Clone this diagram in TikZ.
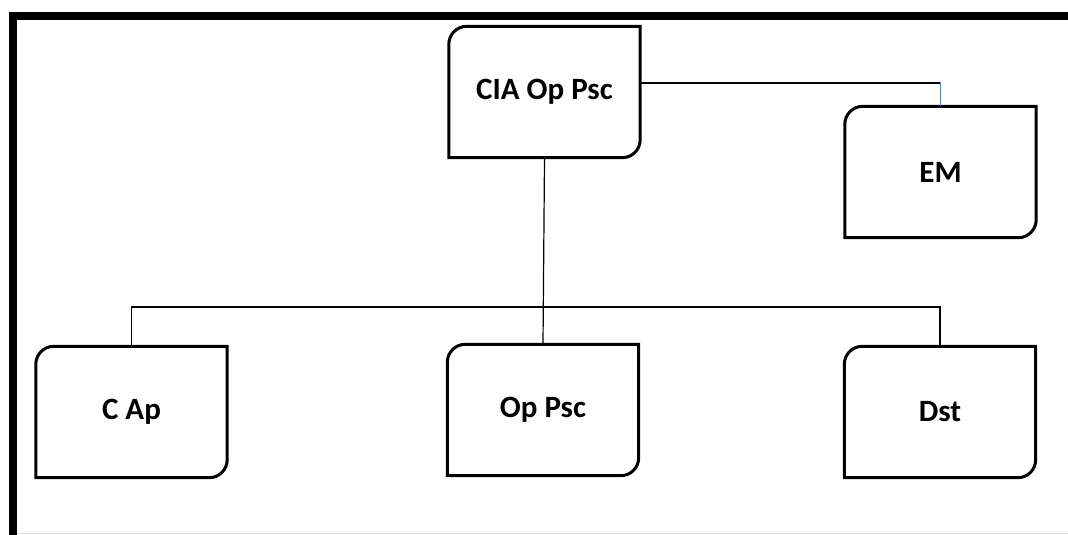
\documentclass[tikz,border=0pt]{standalone}
\usepackage{fontspec}
\setmainfont{Carlito}
\definecolor{linkblue}{RGB}{90,130,190}
\begin{document}
\begin{tikzpicture}[x=1pt,y=-1pt]

        \useasboundingbox (0,0) rectangle (1068,535);

        % frame
        \draw[line width=8pt] (9,16) -- (1068,16);
        \draw[line width=8pt] (13,12) -- (13,535);
        \draw[black!12] (17,533) -- (1068,533);

        \begin{scope}[every node/.style={minimum width=191pt,minimum height=131pt,inner sep=0pt,font=\bfseries\fontsize{31}{36}\selectfont}]
          \node (cia) at (544.5,92)  {CIA Op Psc};
          \node (em)  at (940.5,172) {EM};
          \node (cap) at (131.5,412) {C Ap};
          \node (ops) at (543,410)   {Op Psc};
          \node (dst) at (940,412)   {Dst};
        \end{scope}

        % outlines, rounded top left and bottom right
        \foreach \n in {cia,em,cap,ops,dst}
          \draw[line width=3pt] (\n.north east) -- ([yshift=18pt]\n.south east)
            arc[start angle=0,end angle=-90,radius=18pt] -- (\n.south west)
            -- ([yshift=-18pt]\n.north west)
            arc[start angle=180,end angle=90,radius=18pt] -- cycle;

        \coordinate (bus) at (544.5,307);

        \begin{scope}[line width=1.2pt]
          \draw ([yshift=9pt]cia.east) -| ([yshift=24pt]em.north);
          \draw[linkblue] ([yshift=24pt]em.north) -- (em.north);
          \draw (cia.south) -- (ops.north);
          \draw (cap.north) |- (bus) -| (dst.north);
        \end{scope}

      \end{tikzpicture}
\end{document}
